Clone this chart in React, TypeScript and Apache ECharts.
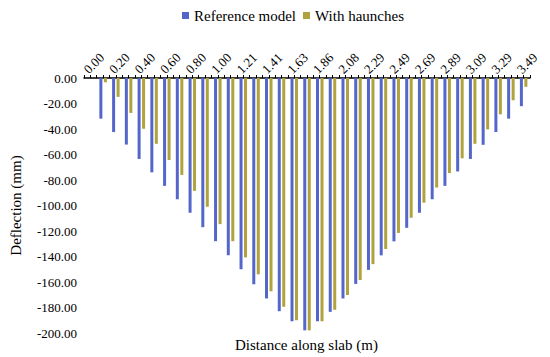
import React, { useEffect, useRef } from "react";
import * as echarts from "echarts";

const categories = [
  "0.00", "0.10", "0.20", "0.30", "0.40", "0.50", "0.60", "0.70", "0.80", "0.90",
  "1.00", "1.10", "1.21", "1.31", "1.41", "1.52", "1.63", "1.74", "1.86", "1.97",
  "2.08", "2.19", "2.29", "2.39", "2.49", "2.59", "2.69", "2.79", "2.89", "2.99",
  "3.09", "3.19", "3.29", "3.39", "3.49",
];

const referenceModel = [
  0, -31.9, -42.4, -52.2, -63.5, -74.0, -84.6, -95.1, -105.7, -117.0,
  -128.0, -139.0, -150.0, -161.8, -172.9, -182.9, -190.8, -197.9, -190.8, -183.4,
  -172.9, -161.5, -150.5, -139.1, -128.1, -117.5, -105.7, -95.1, -84.6, -73.3,
  -63.5, -52.4, -42.4, -31.9, -22.1,
];

const withHaunches = [
  0, -3.4, -14.8, -27.4, -39.8, -51.6, -64.3, -76.0, -88.5, -101.0,
  -114.6, -128.0, -140.7, -154.0, -167.3, -179.4, -190.0, -197.9, -190.8, -181.8,
  -170.2, -158.4, -146.0, -134.1, -121.5, -109.6, -97.8, -85.9, -74.6, -63.0,
  -51.6, -40.3, -28.5, -17.4, -6.9,
];

const seriesNames = ["Reference model", "With haunches"];
const yMin = -200;
const yMax = 0;
const yStep = 20;

const FONT = "Times New Roman, Liberation Serif, DejaVu Serif";

export default function App() {
  const ref = useRef<HTMLDivElement>(null);

  useEffect(() => {
    if (!ref.current) return;
    const chart = echarts.init(ref.current, undefined, { renderer: "svg" });
    chart.setOption({
      animation: false,
      backgroundColor: "#ffffff",
      textStyle: { fontFamily: FONT },
      legend: {
        top: 3,
        left: 177,
        icon: "rect",
        itemWidth: 7,
        itemHeight: 7,
        itemGap: 7,
        textStyle: { fontFamily: FONT, fontSize: 15, color: "#000" },
        data: seriesNames,
      },
      grid: { left: 75, right: 20, top: 78, bottom: 24 },
      xAxis: [
        {
          type: "category",
          position: "top",
          data: categories,
          axisLine: { onZero: false, lineStyle: { color: "#000", width: 1.5 } },
          axisTick: { show: false },
          axisLabel: {
            interval: 1,
            rotate: -45,
            margin: 2,
            align: "left",
            verticalAlign: "bottom",
            fontFamily: FONT,
            fontSize: 13,
            color: "#000",
          },
          splitLine: { show: false },
        },
        {
          type: "value",
          position: "top",
          min: 0,
          max: categories.length,
          interval: 0.5,
          axisLine: { show: false },
          axisTick: { show: true, length: 3, lineStyle: { color: "#000", width: 1 } },
          axisLabel: { show: false },
          splitLine: { show: false },
        },
      ],
      yAxis: {
        type: "value",
        min: yMin,
        max: yMax,
        interval: yStep,
        name: "Deflection (mm)",
        nameLocation: "middle",
        nameGap: 61,
        nameTextStyle: { fontFamily: FONT, fontSize: 15, color: "#000" },
        axisLine: { show: false },
        axisTick: { show: false },
        splitLine: { show: false },
        axisLabel: {
          fontFamily: FONT,
          fontSize: 13,
          color: "#000",
          margin: 7,
          formatter: (v: number) => v.toFixed(2),
        },
      },
      graphic: [
        {
          type: "text",
          left: 235,
          bottom: 5,
          style: {
            text: "Distance along slab (m)",
            fontFamily: FONT,
            fontSize: 15,
            fill: "#000",
          },
        },
      ],
      series: [
        {
          name: seriesNames[0],
          type: "bar",
          xAxisIndex: 0,
          data: referenceModel,
          barWidth: 3,
          barGap: "50%",
          itemStyle: { color: "#5466CA" },
        },
        {
          name: seriesNames[1],
          type: "bar",
          xAxisIndex: 0,
          data: withHaunches,
          barWidth: 3,
          barGap: "50%",
          itemStyle: { color: "#B0A23C" },
        },
      ],
    });
    return () => chart.dispose();
  }, []);

  return (
    <div
      ref={ref}
      style={{ position: "fixed", left: 0, top: 0, width: 550, height: 357 }}
    />
  );
}
